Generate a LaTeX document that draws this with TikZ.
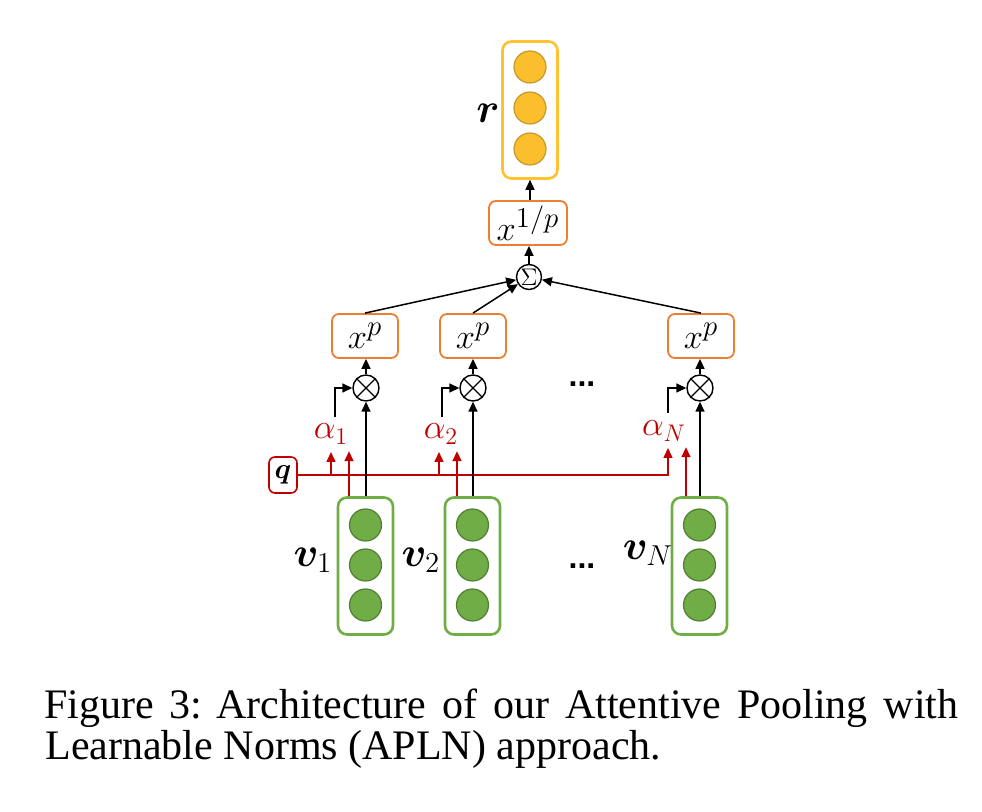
\documentclass[tikz,border=0pt]{standalone}
\usepackage{amsmath}
\usepackage{bm}
\usepackage{fontspec}
\newfontfamily\capfont{Liberation Serif}
\newfontfamily\dotfont{Liberation Sans}
\usetikzlibrary{arrows.meta,calc}
\definecolor{orng}{HTML}{ED7D31}
\definecolor{ylwb}{HTML}{FFC12E}
\definecolor{ylwf}{HTML}{FBBE2D}
\definecolor{ylwd}{HTML}{C49A2C}
\definecolor{grn}{HTML}{70AD47}
\definecolor{grnd}{HTML}{507E32}
\definecolor{rd}{HTML}{C00000}
\tikzset{
  vecbox/.style={draw, rounded corners=4.5pt, line width=1.3pt, minimum width=27.5pt, minimum height=68.5pt, inner sep=0pt},
  gbox/.style={vecbox, draw=grn},
  ybox/.style={vecbox, draw=ylwb},
  gdot/.style={circle, fill=grn, draw=grnd, line width=0.6pt, minimum size=16pt, inner sep=0pt},
  ydot/.style={circle, fill=ylwf, draw=ylwd, line width=0.6pt, minimum size=16pt, inner sep=0pt},
  opbox/.style={draw=orng, rounded corners=3.5pt, line width=0.9pt, minimum height=22pt, inner sep=0pt, font=\fontsize{19pt}{19pt}\selectfont},
  opc/.style={circle, draw, line width=0.7pt, minimum size=13pt, inner sep=0pt},
  arr/.style={-{Triangle[length=5pt,width=4.5pt]}, line width=0.75pt},
  rarr/.style={arr, draw=rd, line width=0.8pt},
  lbl/.style={font=\fontsize{20pt}{20pt}\selectfont, inner sep=0pt},
  rlbl/.style={font=\fontsize{18.5pt}{18.5pt}\selectfont, inner sep=0pt, text=rd},
  dots/.style={font=\dotfont\bfseries\fontsize{16pt}{16pt}\selectfont, inner sep=0pt}
}
\begin{document}
\begin{tikzpicture}[x=0.5pt, y=-0.5pt]
\useasboundingbox (0,0) rectangle (982,812);
% output vector r
\node[ybox] (rbox) at (530,110) {};
\node[ydot] (r1) at (530,67) {};
\node[ydot] (r2) at (530,108) {};
\node[ydot] (r3) at (530,149) {};
\node[lbl] (rl) at (488,113) {$\bm{r}$};
% x^{1/p}
\node[opbox, minimum width=39pt] (xinv) at (528,223) {$x^{1/p}$};
% sigma
\node[opc, minimum size=12.5pt, font=\fontsize{11.5pt}{11.5pt}\selectfont] (sig) at (529,277) {$\Sigma$};
% x^p boxes
\node[opbox, minimum width=33pt] (xp1) at (365,336) {$x^{p}$};
\node[opbox, minimum width=33pt] (xp2) at (473,336) {$x^{p}$};
\node[opbox, minimum width=33pt] (xpN) at (701,336) {$x^{p}$};
% otimes
\foreach \n/\x in {1/366,2/473,N/700}{
  \node[opc] (ot\n) at (\x,388) {};
  \draw[line width=0.7pt] (ot\n.45) -- (ot\n.225) (ot\n.135) -- (ot\n.-45);
}
% input vectors
\foreach \n/\x in {1/365.5,2/472.5,N/699.5}{
  \node[gbox] (v\n) at (\x,566) {};
  \node[gdot] (v\n a) at (\x,525) {};
  \node[gdot] (v\n b) at (\x,565) {};
  \node[gdot] (v\n c) at (\x,605) {};
}
\node[lbl] (v1l) at (313,560) {$\bm{v}_1$};
\node[lbl] (v2l) at (421,560) {$\bm{v}_2$};
\node[lbl] (vNl) at (648,553) {$\bm{v}_N$};
% dots
\node[dots] (d1) at (582,384) {...};
\node[dots] (d2) at (582,566) {...};
% query
\node[draw=rd, rounded corners=3pt, line width=0.8pt, minimum width=14pt, minimum height=18pt, inner sep=0pt, font=\fontsize{15pt}{15pt}\selectfont] (q) at (283,475) {$\bm{q}$};
% alpha labels
\node[rlbl] (a1) at (331,434) {$\alpha_1$};
\node[rlbl] (a2) at (441,434) {$\alpha_2$};
\node[rlbl] (aN) at (664,431) {$\alpha_N$};
% red attention lines
\coordinate (qt) at (668,448);
\draw[rarr] (q.east) -| (qt);
\foreach \x in {331,439}{
  \draw[rarr] (\x,475) -- (\x,452);
}
\draw[rarr] ($(v1.north)+(-16.5,0)$) -- ++(0,-45);
\draw[rarr] ($(v2.north)+(-15.5,0)$) -- ++(0,-45);
\draw[rarr] ($(vN.north)+(-13.5,0)$) -- ++(0,-49);
% alpha to otimes
\draw[arr] (335,417) |- (ot1.west);
\draw[arr] (442,417) |- (ot2.west);
\draw[arr] (668,413) |- (otN.west);
% v to otimes
\draw[arr] (v1.north -| ot1) -- (ot1.south);
\draw[arr] (v2.north -| ot2) -- (ot2.south);
\draw[arr] (vN.north -| otN) -- (otN.south);
% otimes to x^p
\draw[arr] (ot1.north) -- (xp1.south -| ot1);
\draw[arr] (ot2.north) -- (xp2.south -| ot2);
\draw[arr] (otN.north) -- (xpN.south -| otN);
% x^p to sigma
\draw[arr] (xp1.north) -- (sig);
\draw[arr] (xp2.north) -- (sig);
\draw[arr] (xpN.north) -- (sig);
\draw[arr] (sig.north) -- (xinv.south -| sig);
\draw[arr] (xinv.north -| rbox) -- (rbox.south);
% caption
\node[anchor=base west, inner sep=0pt, font=\capfont\fontsize{21pt}{21pt}\selectfont] (cap1) at (44,719) {\makebox[457pt][s]{Figure 3:\hspace{7pt}Architecture of our Attentive Pooling with}};
\node[anchor=base west, inner sep=0pt, font=\capfont\fontsize{21pt}{21pt}\selectfont] (cap2) at (45,760) {Learnable Norms (APLN) approach.};
\end{tikzpicture}
\end{document}
